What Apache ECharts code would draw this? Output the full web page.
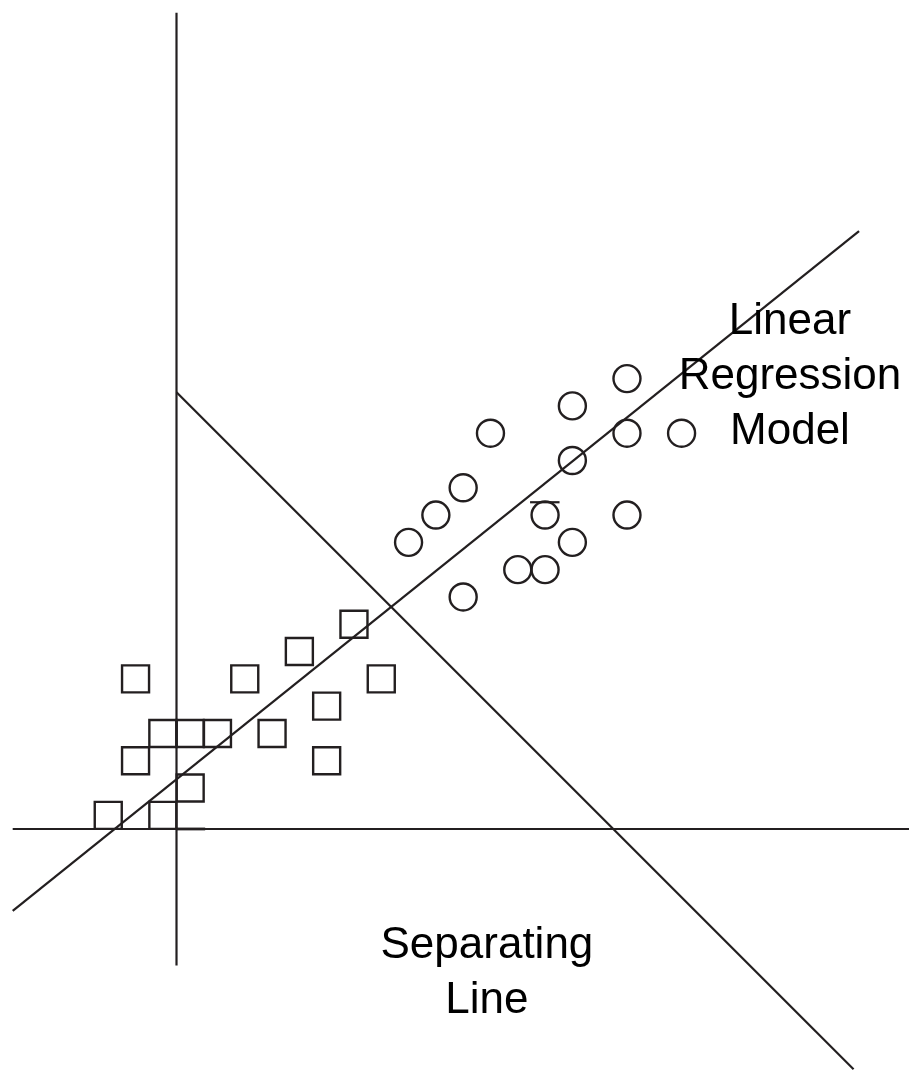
<!DOCTYPE html>
<html>
<head>
<meta charset="utf-8">
<script src="https://cdn.jsdelivr.net/npm/echarts@6/dist/echarts.min.js"></script>
<style>
html,body{margin:0;padding:0;background:#fff;}
#chart{width:909px;height:1070px;}
</style>
</head>
<body>
<div id="chart"></div>
<script>
// Data (in grid units; origin where the two axis lines cross)
var squaresX = [-1.5, 2.5, 4.5, 6.5, 7.5, 5.5, -0.5, 0.5, 1.5, 3.5, -1.5, 5.5, 0.5, -2.5, -0.5];
var squaresY = [5.5, 5.5, 6.5, 7.5, 5.5, 4.5, 3.5, 3.5, 3.5, 3.5, 2.5, 2.5, 1.5, 0.5, 0.5];
var circlesX = [16.5, 14.5, 11.5, 16.5, 18.5, 14.5, 10.5, 9.5, 13.5, 16.5, 8.5, 14.5, 12.5, 13.5, 10.5];
var circlesY = [16.5, 15.5, 14.5, 14.5, 14.5, 13.5, 12.5, 11.5, 11.5, 11.5, 10.5, 10.5, 9.5, 9.5, 8.5];
var axisVertical = [[0, -5], [0, 29.9]];
var axisHorizontal = [[-6, 0], [26.9, 0]];
var regressionLine = [[-6, -3], [25, 21.9]];
var separatingLine = [[0, 16], [24.8, -8.8]];
var strayBar = [[12.95, 11.97], [14.03, 11.97]];
var strayBase = [[0, 0], [1.05, 0]];
var labelTexts = ['Linear\nRegression\nModel', 'Separating\nLine'];
var labelPos = [[22.47, 16.55], [11.37, -5.3]];

var ink = '#231f20';
function zip(xs, ys) { return xs.map(function (x, i) { return [x, ys[i]]; }); }
function lineSeries(data, w) {
  return { type: 'line', data: data, symbol: 'none', silent: true,
    lineStyle: { color: ink, width: w || 2.2, opacity: 1 }, z: 2 };
}

var chart = echarts.init(document.getElementById('chart'), null, { renderer: 'canvas' });
chart.setOption({
  animation: false,
  backgroundColor: '#ffffff',
  grid: { left: 0, right: 0, top: 0, bottom: 0 },
  xAxis: { type: 'value', min: -6.465, max: 26.83, show: false },
  yAxis: { type: 'value', min: -8.83, max: 30.37, show: false },
  series: [
    lineSeries(axisVertical),
    lineSeries(axisHorizontal),
    lineSeries(regressionLine),
    lineSeries(separatingLine),
    lineSeries(strayBar),
    lineSeries(strayBase, 2.8),
    { type: 'scatter', data: zip(squaresX, squaresY), symbol: 'rect', symbolSize: 27, silent: true,
      itemStyle: { color: 'rgba(0,0,0,0)', borderColor: ink, borderWidth: 2.4, opacity: 1 }, z: 3 },
    { type: 'scatter', data: zip(circlesX, circlesY), symbol: 'circle', symbolSize: 27, silent: true,
      itemStyle: { color: 'rgba(0,0,0,0)', borderColor: ink, borderWidth: 2.4, opacity: 1 }, z: 3 },
    { type: 'scatter', symbolSize: 0, silent: true, z: 4,
      itemStyle: { opacity: 1 },
      data: labelPos.map(function (p, i) { return { value: p, name: labelTexts[i] }; }),
      label: { show: true, position: 'inside', formatter: function (p) { return p.name; },
        color: '#000000', textBorderWidth: 0, fontSize: 44, lineHeight: 55, align: 'center', verticalAlign: 'middle',
        fontFamily: '"Liberation Sans", Arial, Helvetica, sans-serif' } }
  ]
});
</script>
</body>
</html>
